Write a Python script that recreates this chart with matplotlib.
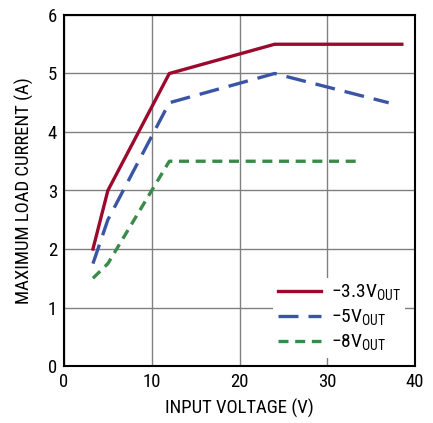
import matplotlib
matplotlib.use("Agg")
import matplotlib.pyplot as plt

plt.rcParams['font.family'] = ['Roboto Condensed', 'DejaVu Sans']
plt.rcParams['mathtext.fontset'] = 'custom'
plt.rcParams['mathtext.rm'] = 'Roboto Condensed'

# curves
vin_33 = [3.3, 5, 12, 24, 38.5]
iload_33 = [2.0, 3.0, 5.0, 5.5, 5.5]
vin_5 = [3.3, 5, 12, 24, 37]
iload_5 = [1.75, 2.5, 4.5, 5.0, 4.5]
vin_8 = [3.3, 5, 12, 34]
iload_8 = [1.5, 1.75, 3.5, 3.5]

xticks = [0, 10, 20, 30, 40]
yticks = [0, 1, 2, 3, 4, 5, 6]

fig = plt.figure(figsize=(4.33, 4.23), dpi=100)
ax = fig.add_axes([64/433, 1 - 366/423, 351/433, 351/423])

ax.plot(vin_33, iload_33, color='#9b0a2c', lw=2.4, label='\u22123.3V$_{\\mathregular{OUT}}$')
ax.plot(vin_5, iload_5, color='#3b55a5', lw=2.4, dashes=(6, 3), label='\u22125V$_{\\mathregular{OUT}}$')
ax.plot(vin_8, iload_8, color='#3a8a4a', lw=2.4, dashes=(3, 2), label='\u22128V$_{\\mathregular{OUT}}$')

ax.set_xlim(0, 40)
ax.set_ylim(0, 6)
ax.set_xticks(xticks)
ax.set_yticks(yticks)
ax.grid(True, color='#808080', lw=1)
ax.set_axisbelow(True)
ax.tick_params(length=0, labelsize=13.5, pad=5)
for s in ax.spines.values():
    s.set_linewidth(1.5)
    s.set_color('black')

ax.set_xlabel('INPUT VOLTAGE (V)', fontsize=13.5, labelpad=6)
ax.set_ylabel('MAXIMUM LOAD CURRENT (A)', fontsize=13.5, labelpad=10)

leg = ax.legend(loc='lower right', fontsize=14, frameon=True, framealpha=1,
                edgecolor='white', fancybox=False, handlelength=2.2,
                labelspacing=0.25, borderpad=0.25, handletextpad=0.5,
                bbox_to_anchor=(1.0, -0.005))
leg.get_frame().set_linewidth(0)

fig.savefig('out.png', dpi=100)
